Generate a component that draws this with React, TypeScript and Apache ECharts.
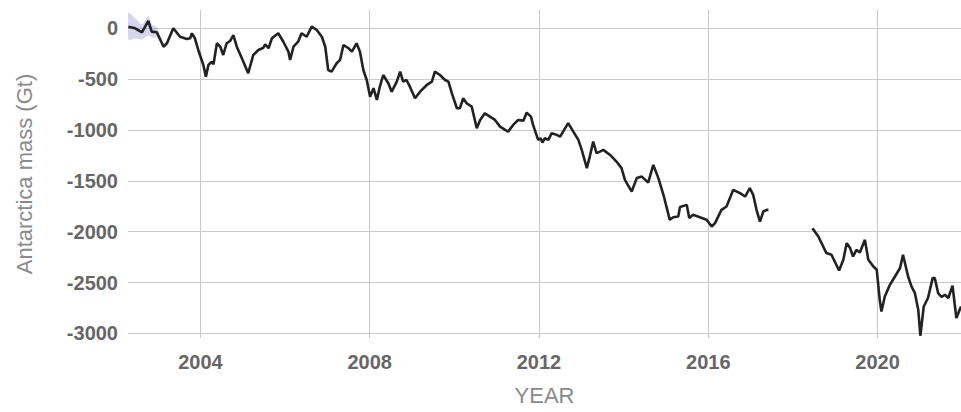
import React, { useEffect, useRef } from "react";
import * as echarts from "echarts";

// GRACE era (first mission)
const years1 = [
  2002.30, 2002.46, 2002.62, 2002.77, 2002.85, 2002.97, 2003.13, 2003.21, 2003.36, 2003.52,
  2003.68, 2003.76, 2003.80, 2003.87, 2003.95, 2004.07, 2004.13, 2004.19, 2004.27, 2004.31,
  2004.39, 2004.47, 2004.54, 2004.62, 2004.70, 2004.78, 2004.86, 2004.98, 2005.13, 2005.25,
  2005.37, 2005.49, 2005.53, 2005.61, 2005.69, 2005.84, 2005.96, 2006.08, 2006.12, 2006.20,
  2006.31, 2006.39, 2006.51, 2006.63, 2006.75, 2006.87, 2006.95, 2007.02, 2007.10, 2007.22,
  2007.30, 2007.38, 2007.50, 2007.58, 2007.69, 2007.77, 2007.85, 2007.93, 2008.01, 2008.09,
  2008.17, 2008.24, 2008.32, 2008.44, 2008.52, 2008.64, 2008.72, 2008.79, 2008.87, 2008.95,
  2009.07, 2009.19, 2009.35, 2009.47, 2009.54, 2009.66, 2009.78, 2009.86, 2009.94, 2010.06,
  2010.13, 2010.21, 2010.29, 2010.41, 2010.53, 2010.61, 2010.72, 2010.84, 2010.96, 2011.08,
  2011.20, 2011.27, 2011.39, 2011.51, 2011.63, 2011.71, 2011.81, 2011.86, 2011.98, 2012.04,
  2012.08, 2012.14, 2012.22, 2012.30, 2012.42, 2012.50, 2012.57, 2012.69, 2012.81, 2012.93,
  2013.01, 2013.13, 2013.20, 2013.28, 2013.36, 2013.44, 2013.52, 2013.68, 2013.83, 2013.95,
  2014.03, 2014.19, 2014.31, 2014.43, 2014.58, 2014.70, 2014.82, 2014.94, 2015.09, 2015.17,
  2015.29, 2015.33, 2015.49, 2015.55, 2015.64, 2015.80, 2015.96, 2016.08, 2016.16, 2016.31,
  2016.43, 2016.59, 2016.75, 2016.87, 2016.98, 2017.06, 2017.14, 2017.22, 2017.30, 2017.38,
  2017.42,
];
const mass1 = [
  16, 0, -39, 72, -33, -39, -181, -147, 0, -83,
  -105, -98, -49, -98, -213, -361, -475, -361, -328, -354,
  -147, -181, -262, -147, -125, -66, -181, -295, -442, -262,
  -213, -191, -157, -196, -98, -49, -132, -230, -311, -181,
  -132, -49, -83, 16, -17, -83, -181, -410, -426, -344,
  -311, -164, -196, -230, -147, -230, -410, -508, -672, -589,
  -704, -574, -459, -540, -623, -525, -426, -525, -508, -574,
  -688, -623, -557, -525, -426, -459, -508, -525, -638, -786,
  -786, -688, -737, -770, -982, -901, -835, -868, -901, -967,
  -999, -1016, -950, -901, -908, -829, -868, -950, -1097, -1081,
  -1124, -1081, -1097, -1031, -1048, -1065, -1016, -933, -1016, -1097,
  -1195, -1375, -1261, -1114, -1228, -1212, -1195, -1245, -1310, -1375,
  -1490, -1605, -1473, -1458, -1517, -1343, -1473, -1637, -1883, -1857,
  -1851, -1758, -1736, -1866, -1834, -1857, -1883, -1949, -1915, -1785,
  -1752, -1588, -1621, -1654, -1572, -1637, -1785, -1900, -1801, -1785,
  -1785,
];

// GRACE-FO era (second mission)
const years2 = [
  2018.46, 2018.60, 2018.79, 2018.91, 2019.09, 2019.19, 2019.27, 2019.35, 2019.42, 2019.50,
  2019.58, 2019.70, 2019.78, 2019.90, 2019.98, 2020.05, 2020.09, 2020.17, 2020.29, 2020.41,
  2020.53, 2020.60, 2020.72, 2020.80, 2020.88, 2020.96, 2021.01, 2021.09, 2021.19, 2021.30,
  2021.35, 2021.43, 2021.51, 2021.59, 2021.67, 2021.77, 2021.86, 2021.97,
];
const mass2 = [
  -1965, -2047, -2210, -2227, -2381, -2276, -2112, -2161, -2244, -2178,
  -2204, -2080, -2276, -2342, -2374, -2669, -2784, -2637, -2522, -2440,
  -2357, -2227, -2440, -2538, -2603, -2767, -3023, -2735, -2652, -2456,
  -2456, -2603, -2642, -2620, -2652, -2531, -2849, -2735,
];

// uncertainty band at the start of the record
const bandYears = [2002.30, 2002.46, 2002.62, 2002.77, 2002.85, 2002.97, 2003.13];
const bandUpper = [150, 100, 40, 120, 40, 10, -160];
const bandLower = [-110, -100, -110, -70, -90, -90, -190];

const xTicks = [2004, 2008, 2012, 2016, 2020];
const yTicks = [-3000, -2500, -2000, -1500, -1000, -500, 0];

const FONT = "'Liberation Sans', Arial, sans-serif";

export default function App() {
  const ref = useRef<HTMLDivElement>(null);
  useEffect(() => {
    document.body.style.margin = "0";
    if (!ref.current) return;
    const chart = echarts.init(ref.current, undefined, { renderer: "svg" });
    const zip = (xs: number[], ys: number[]) => xs.map((x, i) => [x, ys[i]]);
    const lineStyle = { color: "#222222", width: 2.6 };
    const fmt = (v: number) => String(Math.round(v));
    chart.setOption({
      animation: false,
      backgroundColor: "#ffffff",
      grid: { left: 128, right: 0, top: 10, bottom: 74, containLabel: false },
      xAxis: {
        type: "value",
        min: 2002.29,
        max: 2021.97,
        name: "YEAR",
        nameLocation: "middle",
        nameGap: 46,
        nameTextStyle: { color: "#8a8a8a", fontSize: 22, fontFamily: FONT },
        axisLine: { show: false },
        axisTick: { show: false, customValues: xTicks },
        axisLabel: {
          customValues: xTicks,
          formatter: fmt,
          color: "#666666",
          fontSize: 20,
          fontWeight: "bold",
          fontFamily: FONT,
          margin: 14,
        },
        splitLine: { show: true, lineStyle: { color: "#c8c8c8", width: 1 } },
      },
      yAxis: {
        type: "value",
        min: -3045,
        max: 180,
        name: "Antarctica mass (Gt)",
        nameLocation: "middle",
        nameGap: 93,
        nameTextStyle: { color: "#8a8a8a", fontSize: 22, fontFamily: FONT },
        axisLine: { show: false },
        axisTick: { show: false, customValues: yTicks },
        axisLabel: {
          customValues: yTicks,
          formatter: fmt,
          color: "#666666",
          fontSize: 20,
          fontWeight: "bold",
          fontFamily: FONT,
          margin: 10,
        },
        splitLine: { show: true, lineStyle: { color: "#c8c8c8", width: 1 } },
      },
      series: [
        {
          type: "custom",
          silent: true,
          z: 1,
          clip: true,
          data: [[bandYears[0], bandUpper[0]]],
          renderItem: (_params: any, api: any) => {
            const pts: number[][] = [];
            for (let i = 0; i < bandYears.length; i++) pts.push(api.coord([bandYears[i], bandUpper[i]]));
            for (let i = bandYears.length - 1; i >= 0; i--) pts.push(api.coord([bandYears[i], bandLower[i]]));
            return {
              type: "polygon",
              shape: { points: pts, smooth: 0.3 },
              style: { fill: "rgba(120,115,195,0.3)", stroke: "none" },
            };
          },
        },
        {
          type: "line",
          data: zip(years1, mass1),
          showSymbol: false,
          symbol: "none",
          lineStyle,
          z: 3,
        },
        {
          type: "line",
          data: zip(years2, mass2),
          showSymbol: false,
          symbol: "none",
          lineStyle,
          z: 3,
        },
      ],
    });
    return () => chart.dispose();
  }, []);
  return <div ref={ref} style={{ width: 961, height: 412 }} />;
}
